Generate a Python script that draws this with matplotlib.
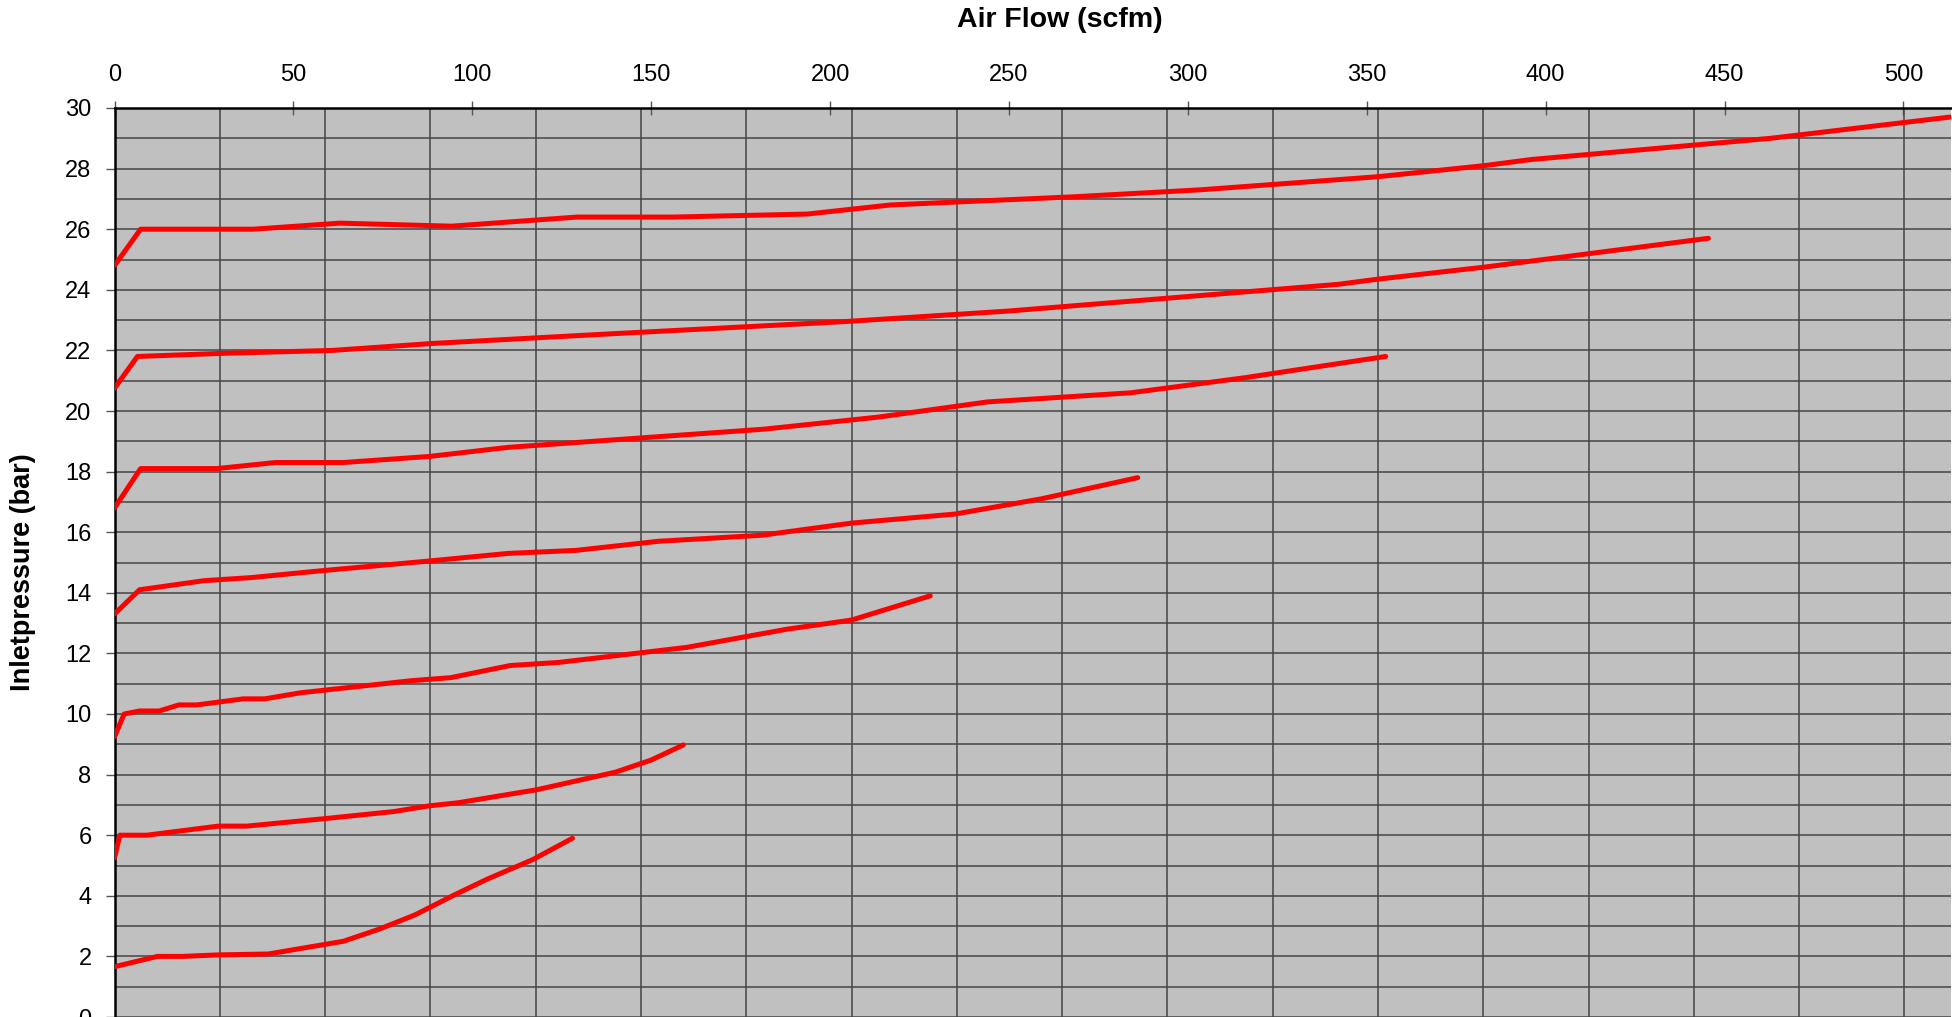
import matplotlib
matplotlib.use("Agg")
import matplotlib.pyplot as plt
import numpy as np

plt.rcParams['font.family'] = ['Liberation Sans', 'DejaVu Sans']

# air flow (scfm) vs inlet pressure (bar), one curve per model
flow_1 = [0, 7.3, 38.8, 63, 94.2, 129.2, 155.9, 193.6, 216.9, 268.2, 303.5, 352.9, 383, 396, 462.9, 513]
press_1 = [24.8, 26.0, 26.0, 26.2, 26.1, 26.4, 26.4, 26.5, 26.8, 27.07, 27.3, 27.73, 28.1, 28.3, 29.0, 29.7]

flow_2 = [0, 6.4, 29.5, 61, 89, 136, 204, 250, 294, 342, 353, 383, 445.5]
press_2 = [20.75, 21.8, 21.9, 22.0, 22.23, 22.53, 22.95, 23.3, 23.72, 24.18, 24.35, 24.75, 25.7]

flow_3 = [0, 7.3, 28.6, 45, 64, 88, 110, 181.5, 213.6, 244, 284, 316, 355.3]
press_3 = [16.8, 18.1, 18.1, 18.3, 18.3, 18.5, 18.8, 19.4, 19.8, 20.3, 20.6, 21.1, 21.8]

flow_4 = [0, 7, 25, 38, 58, 88, 110, 129, 152, 181, 206, 235, 259, 286]
press_4 = [13.3, 14.1, 14.4, 14.5, 14.73, 15.05, 15.3, 15.4, 15.7, 15.9, 16.3, 16.6, 17.1, 17.8]

flow_5 = [0, 2.7, 7, 12.5, 18, 23, 36, 42, 52, 83, 94, 110.6, 124, 160, 188, 206, 228]
press_5 = [9.25, 10.0, 10.1, 10.1, 10.3, 10.3, 10.5, 10.5, 10.7, 11.1, 11.2, 11.6, 11.7, 12.2, 12.8, 13.1, 13.9]

flow_6 = [0, 1.5, 9, 29, 37, 59, 78, 88, 96, 118, 140, 150, 159]
press_6 = [5.25, 6.0, 6.0, 6.3, 6.3, 6.55, 6.78, 6.97, 7.07, 7.5, 8.08, 8.48, 8.98]

flow_7 = [0, 12, 19, 29, 43, 64, 74, 84, 95, 104, 117, 128]
press_7 = [1.66, 2.0, 2.0, 2.05, 2.08, 2.5, 2.9, 3.37, 4.03, 4.54, 5.2, 5.9]

x_ticks = list(range(0, 501, 50))
y_ticks = list(range(0, 31, 2))

# vertical grid follows a hidden m3/h scale (50 m3/h steps)
m3h_per_scfm = 1.699
x_grid = np.arange(0, 900, 50) / m3h_per_scfm

fig = plt.figure(figsize=(19.52, 10.17), dpi=100)
ax = fig.add_axes([114.5 / 1952, 0, (1951 - 114.5) / 1952, (1017 - 108) / 1017])
ax.set_facecolor('#c0c0c0')

for fx, py in [(flow_1, press_1), (flow_2, press_2), (flow_3, press_3), (flow_4, press_4),
               (flow_5, press_5), (flow_6, press_6), (flow_7, press_7)]:
    ax.plot(fx, py, color='#ff0000', lw=3.6, solid_capstyle='round', solid_joinstyle='round', zorder=3)

ax.set_xlim(0, 513.3)
ax.set_ylim(0, 30)

ax.xaxis.tick_top()
ax.set_xticks(x_ticks)
ax.set_xticks(x_grid, minor=True)
ax.set_yticks(y_ticks)
ax.set_yticks(range(0, 31), minor=True)

ax.tick_params(axis='x', which='major', direction='inout', length=9.5, width=1, color='#555555',
               labelsize=17, pad=11)
ax.tick_params(axis='x', which='minor', length=0)
ax.tick_params(axis='y', which='major', direction='out', length=6.5, width=1, color='#555555',
               labelsize=17, pad=10)
ax.tick_params(axis='y', which='minor', length=0)

ax.grid(True, axis='x', which='minor', color='#454545', lw=1.1)
ax.grid(True, axis='y', which='both', color='#454545', lw=1.1)
ax.set_axisbelow(True)

ax.spines['right'].set_visible(False)
ax.spines['bottom'].set_visible(False)
ax.spines['left'].set_linewidth(1.8)
ax.spines['top'].set_linewidth(1.8)

fig.text(1060 / 1952, 1 - 20 / 1017, 'Air Flow (scfm)', ha='center', va='center',
         fontsize=20.5, fontweight='bold')
fig.text(23.5 / 1952, 1 - 571.7 / 1017, 'Inletpressure (bar)', ha='center', va='center',
         rotation=90, fontsize=19.5, fontweight='bold')

fig.savefig('out.png', dpi=100)
